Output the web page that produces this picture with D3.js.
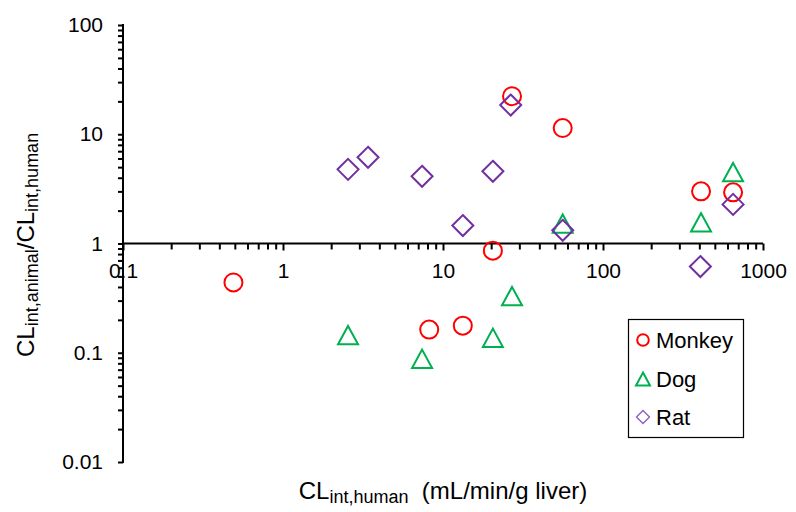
<!DOCTYPE html>
<html>
<head>
<meta charset="utf-8">
<script src="https://cdn.jsdelivr.net/npm/d3@7"></script>
<style>
  html, body { margin: 0; padding: 0; background: #fff; }
  svg { display: block; font-family: Arial, "Liberation Sans", sans-serif; }
</style>
</head>
<body>
<svg id="chart" width="796" height="512"></svg>
<script>
// ---- data (x = CLint,human ; y = CLint,animal / CLint,human) ----
const monkeyX = [0.49, 8.2, 13.3, 20.5, 27, 56, 410, 650];
const monkeyY = [0.44, 0.163, 0.177, 0.86, 22.3, 11.4, 3.0, 2.94];
const dogX = [2.55, 7.4, 20.5, 27, 56, 410, 650];
const dogY = [0.145, 0.088, 0.137, 0.33, 1.52, 1.56, 4.5];
const ratX = [2.55, 3.4, 7.4, 13.3, 20.5, 26.5, 56, 406, 650];
const ratY = [4.77, 6.15, 4.12, 1.46, 4.58, 18.5, 1.32, 0.615, 2.28];
const seriesNames = ["Monkey", "Dog", "Rat"];
const xMajorTicks = [0.1, 1, 10, 100, 1000];
const xTickLabels = ["0.1", "1", "10", "100", "1000"];
const yMajorTicks = [0.01, 0.1, 1, 10, 100];
const yTickLabels = ["0.01", "0.1", "1", "10", "100"];

const svg = d3.select("#chart");
const x = d3.scaleLog().domain([0.1, 1000]).range([123, 763]);
const y = d3.scaleLog().domain([0.01, 100]).range([462, 25]);

function minorTicks(lo, hi) {
  const out = [];
  for (let p = Math.log10(lo); p < Math.log10(hi); p++) {
    for (let m = 2; m <= 9; m++) out.push(m * Math.pow(10, p));
  }
  return out;
}

// x axis (crosses at y = 1)
const xAxisG = svg.append("g").attr("transform", `translate(0,${y(1)})`);
xAxisG.append("g")
  .call(d3.axisBottom(x).tickValues(minorTicks(0.1, 1000)).tickSize(6).tickFormat(""))
  .call(g => g.select(".domain").remove());
xAxisG.append("g")
  .call(d3.axisBottom(x).tickValues(xMajorTicks).tickSize(7).tickPadding(13)
    .tickFormat((d, i) => xTickLabels[i]))
  .call(g => g.select(".domain").remove());
xAxisG.selectAll("line").attr("stroke", "#000").attr("stroke-width", 2);
xAxisG.selectAll("text").attr("font-size", 21).attr("fill", "#000")
  .attr("font-family", "Arial, 'Liberation Sans', sans-serif");
xAxisG.append("line").attr("x1", x(0.1)).attr("x2", x(1000))
  .attr("stroke", "#000").attr("stroke-width", 2);

// y axis
const yAxisG = svg.append("g").attr("transform", `translate(${x(0.1)},0)`);
yAxisG.append("g")
  .call(d3.axisLeft(y).tickValues(minorTicks(0.01, 100)).tickSize(5).tickFormat(""))
  .call(g => g.select(".domain").remove());
yAxisG.append("g")
  .call(d3.axisLeft(y).tickValues(yMajorTicks).tickSize(5).tickPadding(15)
    .tickFormat((d, i) => yTickLabels[i]))
  .call(g => g.select(".domain").remove());
yAxisG.selectAll("line").attr("stroke", "#000").attr("stroke-width", 2);
yAxisG.selectAll("text").attr("font-size", 21).attr("fill", "#000")
  .attr("font-family", "Arial, 'Liberation Sans', sans-serif");
yAxisG.append("line").attr("y1", y(0.01) + 1).attr("y2", y(100) - 1)
  .attr("stroke", "#000").attr("stroke-width", 2);

// markers
const red = "#FF0000", green = "#00B050", purple = "#7030A0";
function triPath(s) { // s = half width
  const h = s * 0.92;
  return `M0,${-h}L${s},${h}L${-s},${h}Z`;
}
function diaPath(s) {
  return `M0,${-s}L${s},0L0,${s}L${-s},0Z`;
}
const plot = svg.append("g");
plot.selectAll(".mk").data(monkeyX.map((v, i) => [v, monkeyY[i]])).join("circle")
  .attr("cx", d => x(d[0])).attr("cy", d => y(d[1])).attr("r", 9)
  .attr("fill", "none").attr("stroke", red).attr("stroke-width", 2);
plot.selectAll(".dg").data(dogX.map((v, i) => [v, dogY[i]])).join("path")
  .attr("transform", d => `translate(${x(d[0])},${y(d[1])})`)
  .attr("d", triPath(10)).attr("fill", "none").attr("stroke", green).attr("stroke-width", 2);
plot.selectAll(".rt").data(ratX.map((v, i) => [v, ratY[i]])).join("path")
  .attr("transform", d => `translate(${x(d[0])},${y(d[1])})`)
  .attr("d", diaPath(10.5)).attr("fill", "none").attr("stroke", purple).attr("stroke-width", 2);

// legend
const lg = svg.append("g");
lg.append("rect").attr("x", 628.5).attr("y", 319.5).attr("width", 115).attr("height", 118)
  .attr("fill", "#fff").attr("stroke", "#000").attr("stroke-width", 1.2);
const rows = [340, 379, 417];
lg.append("circle").attr("cx", 643).attr("cy", rows[0]).attr("r", 5.8)
  .attr("fill", "none").attr("stroke", red).attr("stroke-width", 2);
lg.append("path").attr("transform", `translate(643,${rows[1]})`).attr("d", triPath(7))
  .attr("fill", "none").attr("stroke", green).attr("stroke-width", 2);
lg.append("path").attr("transform", `translate(643,${rows[2]})`).attr("d", diaPath(6.5))
  .attr("fill", "none").attr("stroke", "#8a5cc0").attr("stroke-width", 1.3);
lg.selectAll(".lt").data(seriesNames).join("text")
  .attr("x", 656).attr("y", (d, i) => rows[i] + 7.5)
  .attr("font-size", 22).attr("fill", "#000").text(d => d);

// axis titles
const xt = svg.append("text").attr("x", 443).attr("y", 499)
  .attr("text-anchor", "middle").attr("font-size", 24).attr("fill", "#000");
xt.append("tspan").text("CL");
xt.append("tspan").attr("font-size", 18).attr("dy", 4).text("int,human");
xt.append("tspan").attr("dy", -4).text("\u00a0 (mL/min/g liver)");

const yt = svg.append("text").attr("transform", "translate(34,357) rotate(-90)")
  .attr("text-anchor", "start").attr("font-size", 24).attr("fill", "#000");
yt.append("tspan").text("CL");
yt.append("tspan").attr("font-size", 18).attr("dy", 4).text("int,animal");
yt.append("tspan").attr("dy", -4).text("/CL");
yt.append("tspan").attr("font-size", 18).attr("dy", 4).text("int,human");
</script>
</body>
</html>
